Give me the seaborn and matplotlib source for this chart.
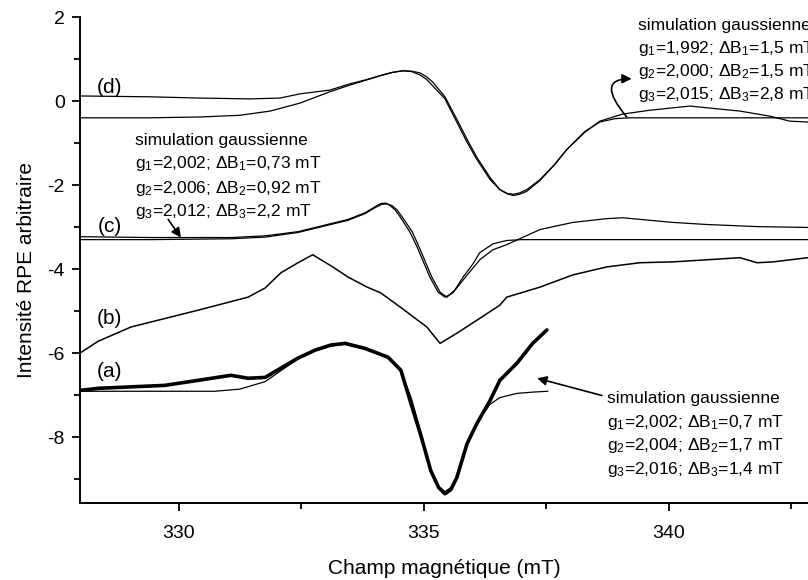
import numpy as np
import pandas as pd
import matplotlib
matplotlib.use('Agg')
import matplotlib.pyplot as plt
import seaborn as sns
from matplotlib.ticker import MultipleLocator

sns.set_theme(style='ticks')
plt.rcParams['font.family'] = ['Liberation Sans', 'DejaVu Sans']
plt.rcParams['mathtext.fontset'] = 'custom'
plt.rcParams['mathtext.rm'] = 'Liberation Sans'
plt.rcParams['mathtext.it'] = 'Liberation Sans:italic'
plt.rcParams['mathtext.bf'] = 'Liberation Sans:bold'
plt.rcParams['axes.unicode_minus'] = False

# ---------------- data ----------------
# (d) experimental
d_exp_x = [327.98, 329.41, 330.43, 331.45, 332.06, 332.47, 333.08, 333.49, 333.80, 334.10,
           334.35, 334.57, 334.75, 334.92, 335.05, 335.18, 335.43, 335.67, 335.88, 336.08,
           336.35, 336.55, 336.70, 336.82, 336.95, 337.10, 337.37, 337.67, 337.92, 338.29,
           338.59, 339.06, 339.61, 340.43, 341.45, 342.06, 342.47, 342.84]
d_exp_y = [0.12, 0.10, 0.07, 0.05, 0.07, 0.17, 0.26, 0.41, 0.50, 0.60,
           0.68, 0.72, 0.70, 0.62, 0.52, 0.36, 0.05, -0.50, -0.98, -1.39,
           -1.87, -2.11, -2.20, -2.22, -2.19, -2.11, -1.87, -1.51, -1.15, -0.74,
           -0.48, -0.31, -0.22, -0.12, -0.24, -0.36, -0.48, -0.50]
# (d) simulation
d_sim_x = [327.98, 329.41, 330.43, 331.24, 331.86, 332.47, 333.08, 333.49, 333.80, 334.10,
           334.35, 334.57, 334.75, 334.92, 335.05, 335.18, 335.43, 335.67, 335.88, 336.08,
           336.35, 336.55, 336.70, 336.82, 336.95, 337.10, 337.37, 337.67, 337.92, 338.29,
           338.59, 338.90, 339.20, 342.84]
d_sim_y = [-0.40, -0.40, -0.38, -0.34, -0.24, -0.05, 0.22, 0.38, 0.49, 0.60,
           0.68, 0.72, 0.71, 0.67, 0.58, 0.45, 0.10, -0.43, -0.91, -1.34,
           -1.82, -2.11, -2.21, -2.25, -2.22, -2.15, -1.89, -1.51, -1.15, -0.72,
           -0.50, -0.42, -0.40, -0.40]
# (c) experimental
c_exp_x = [327.98, 329.41, 331.06, 331.76, 332.43, 333.45, 333.80, 334.00, 334.12, 334.22,
           334.31, 334.41, 334.51, 334.71, 334.86, 335.12, 335.29, 335.43, 335.59, 335.80,
           336.14, 336.41, 336.69, 337.37, 338.04, 338.73, 339.06, 340.08, 340.78, 341.80,
           342.84]
c_exp_y = [-3.23, -3.25, -3.25, -3.21, -3.11, -2.82, -2.66, -2.52, -2.44, -2.43,
           -2.49, -2.59, -2.75, -3.11, -3.47, -4.19, -4.55, -4.67, -4.57, -4.26,
           -3.78, -3.54, -3.42, -3.06, -2.89, -2.80, -2.78, -2.89, -2.94, -2.99,
           -3.01]
# (c) simulation
c_sim_x = [327.98, 329.41, 331.06, 331.76, 332.43, 333.45, 333.80, 334.00, 334.14, 334.25,
           334.35, 334.45, 334.55, 334.76, 334.90, 335.16, 335.33, 335.47, 335.63, 335.80,
           336.00, 336.14, 336.41, 336.69, 337.00, 342.84]
c_sim_y = [-3.30, -3.30, -3.28, -3.24, -3.13, -2.84, -2.68, -2.54, -2.46, -2.45,
           -2.49, -2.59, -2.75, -3.11, -3.47, -4.19, -4.55, -4.67, -4.50, -4.19,
           -3.88, -3.61, -3.40, -3.32, -3.30, -3.30]
# (b) experimental
b_exp_x = [327.98, 328.35, 329.02, 330.39, 331.41, 331.76, 332.08, 332.43, 332.73, 333.14,
           333.45, 333.84, 334.12, 334.51, 335.06, 335.33, 335.67, 336.08, 336.55, 336.69,
           337.37, 338.04, 338.73, 339.41, 340.08, 340.78, 341.45, 341.80, 342.12, 342.84]
b_exp_y = [-6.00, -5.72, -5.38, -4.98, -4.67, -4.45, -4.09, -3.85, -3.66, -3.95,
           -4.19, -4.43, -4.57, -4.90, -5.38, -5.77, -5.53, -5.22, -4.86, -4.67,
           -4.43, -4.14, -3.95, -3.85, -3.83, -3.78, -3.73, -3.85, -3.83, -3.73]
# (a) experimental
a_exp_x = [327.98, 328.35, 329.71, 330.39, 331.06, 331.41, 331.76, 332.08, 332.43, 332.78,
           333.10, 333.39, 333.80, 334.27, 334.53, 334.73, 334.94, 335.14, 335.30, 335.43,
           335.55, 335.67, 335.88, 336.08, 336.35, 336.55, 336.90, 337.22, 337.51]
a_exp_y = [-6.89, -6.84, -6.77, -6.65, -6.53, -6.60, -6.58, -6.36, -6.12, -5.93,
           -5.81, -5.77, -5.89, -6.10, -6.41, -7.18, -7.97, -8.80, -9.20, -9.35,
           -9.25, -8.97, -8.16, -7.68, -7.13, -6.65, -6.24, -5.77, -5.45]
# (a) simulation
a_sim_x = [327.98, 330.73, 331.24, 331.76, 332.08, 332.43, 332.78, 333.10, 333.39, 333.80,
           334.27, 334.53, 334.75, 334.94, 335.14, 335.30, 335.43, 335.55, 335.67, 335.88,
           336.14, 336.35, 336.55, 336.90, 337.22, 337.53]
a_sim_y = [-6.91, -6.91, -6.86, -6.68, -6.42, -6.14, -5.95, -5.83, -5.79, -5.91,
           -6.12, -6.43, -7.10, -7.90, -8.80, -9.18, -9.30, -9.20, -8.95, -8.16,
           -7.55, -7.22, -7.06, -6.96, -6.93, -6.91]

curve_labels = ['(a)', '(b)', '(c)', '(d)']
curve_label_y = [-6.44, -5.17, -2.99, 0.33]

sim_c_lines = ['simulation gaussienne',
               'g$\\mathregular{_1}$=2,002; ΔB$\\mathregular{_1}$=0,73 mT',
               'g$\\mathregular{_2}$=2,006; ΔB$\\mathregular{_2}$=0,92 mT',
               'g$\\mathregular{_3}$=2,012; ΔB$\\mathregular{_3}$=2,2 mT']
sim_d_lines = ['simulation gaussienne',
               'g$\\mathregular{_1}$=1,992; ΔB$\\mathregular{_1}$=1,5 mT',
               'g$\\mathregular{_2}$=2,000; ΔB$\\mathregular{_2}$=1,5 mT',
               'g$\\mathregular{_3}$=2,015; ΔB$\\mathregular{_3}$=2,8 mT']
sim_a_lines = ['simulation gaussienne',
               'g$\\mathregular{_1}$=2,002; ΔB$\\mathregular{_1}$=0,7 mT',
               'g$\\mathregular{_2}$=2,004; ΔB$\\mathregular{_2}$=1,7 mT',
               'g$\\mathregular{_3}$=2,016; ΔB$\\mathregular{_3}$=1,4 mT']

# ---------------- figure ----------------
fig = plt.figure(figsize=(8.08, 5.80), dpi=100)
ax = fig.add_axes([80 / 808, 77 / 580, 728 / 808, 486 / 580])

series = [
    (d_exp_x, d_exp_y, 0.9), (d_sim_x, d_sim_y, 0.9),
    (c_exp_x, c_exp_y, 0.9), (c_sim_x, c_sim_y, 0.9),
    (b_exp_x, b_exp_y, 1.1),
    (a_exp_x, a_exp_y, 2.6), (a_sim_x, a_sim_y, 0.9),
]
for xs, ys, lw in series:
    sns.lineplot(x=xs, y=ys, ax=ax, color='black', linewidth=lw,
                 estimator=None, sort=False, legend=False)

ax.set_xlim(327.98, 342.84)
ax.set_ylim(-9.57, 2.0)
ax.xaxis.set_major_locator(MultipleLocator(5))
ax.xaxis.set_minor_locator(MultipleLocator(2.5))
ax.yaxis.set_major_locator(MultipleLocator(2))
ax.yaxis.set_minor_locator(MultipleLocator(1))
ax.tick_params(which='major', direction='out', length=6, width=1.3,
               labelsize=14, color='black', labelcolor='black')
ax.tick_params(axis='x', which='major', pad=10)
ax.tick_params(axis='y', which='major', pad=5)
ax.tick_params(which='minor', direction='out', length=4, width=1.3, color='black')
for s in ['top', 'right']:
    ax.spines[s].set_visible(False)
for s in ['left', 'bottom']:
    ax.spines[s].set_linewidth(1.4)
    ax.spines[s].set_color('black')

ax.set_xlabel('Champ magnétique (mT)', fontsize=15, color='black', labelpad=12)
ax.set_ylabel('Intensité RPE arbitraire', fontsize=15, color='black')
ax.yaxis.set_label_coords(-0.060, 0.48)

for lab, yy in zip(curve_labels, curve_label_y):
    ax.text(328.59, yy, lab, fontsize=15, ha='center', va='center', color='black')

def block(x0, baselines, lines):
    for yb, t in zip(baselines, lines):
        ax.text(x0, yb, t, fontsize=12.5, ha='left', va='baseline', color='black')

block(329.10, [-1.05, -1.60, -2.18, -2.73], sim_c_lines)
block(339.37, [1.70, 1.15, 0.60, 0.05], sim_d_lines)
block(338.73, [-7.20, -7.75, -8.30, -8.88], sim_a_lines)

arrowkw = dict(arrowstyle='-|>', color='black', lw=1.2, mutation_scale=14,
               shrinkA=0, shrinkB=0)
ax.annotate('', xy=(330.04, -3.25), xytext=(329.78, -2.82), arrowprops=arrowkw)
ax.annotate('', xy=(337.31, -6.60), xytext=(338.63, -7.01), arrowprops=arrowkw)
ax.annotate('', xy=(339.24, 0.53), xytext=(339.14, -0.38),
            arrowprops=dict(arrowkw, connectionstyle='angle3,angleA=130,angleB=0'))

fig.savefig('out.png', dpi=100)
